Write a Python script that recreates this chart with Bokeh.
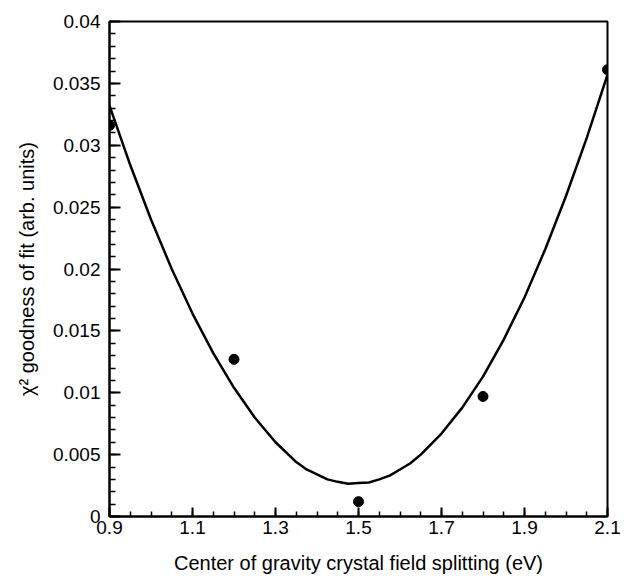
from bokeh.plotting import figure
from bokeh.models import FixedTicker, Range1d
from bokeh.embed import file_html
from bokeh.resources import INLINE

# measured data points
pt_x = [0.9, 1.2, 1.5, 1.8, 2.1]
pt_y = [0.0316, 0.0127, 0.0012, 0.0097, 0.0361]

# fitted curve
fit_x = [0.90, 0.95, 1.00, 1.05, 1.10, 1.15, 1.20, 1.25, 1.30, 1.35, 1.375, 1.40, 1.425,
         1.45, 1.475, 1.50, 1.525, 1.55, 1.575, 1.60, 1.625, 1.65, 1.70, 1.75, 1.80,
         1.85, 1.90, 1.95, 2.00, 2.05, 2.10]
fit_y = [0.0332, 0.0284, 0.0240, 0.0200, 0.0164, 0.0132, 0.0104, 0.0080, 0.0060, 0.0044,
         0.0038, 0.0034, 0.0030, 0.0028, 0.00265, 0.0027, 0.00275, 0.0030, 0.0033, 0.0038,
         0.0043, 0.0050, 0.0067, 0.0088, 0.0113, 0.0143, 0.0177, 0.0216, 0.0259, 0.0306,
         0.0357]

x_ticks = [0.9, 1.1, 1.3, 1.5, 1.7, 1.9, 2.1]
x_tick_labels = ["0.9", "1.1", "1.3", "1.5", "1.7", "1.9", "2.1"]
x_minor = [round(0.9 + 0.05 * i, 3) for i in range(25)]
y_ticks = [0, 0.005, 0.01, 0.015, 0.02, 0.025, 0.03, 0.035, 0.04]
y_tick_labels = ["0", "0.005", "0.01", "0.015", "0.02", "0.025", "0.03", "0.035", "0.04"]
y_minor = [round(0.001 * i, 4) for i in range(41)]

FONT = "Liberation Sans"

p = figure(width=625, height=576, output_backend="svg", toolbar_location=None,
           x_range=Range1d(0.9, 2.1), y_range=Range1d(0, 0.04),
           min_border_left=109, min_border_right=18, min_border_top=21, min_border_bottom=59)
p.grid.visible = False
p.outline_line_color = "black"
p.outline_line_width = 2

p.line(fit_x, fit_y, line_color="black", line_width=2.5)
p.scatter(pt_x, pt_y, size=10, fill_color="black", line_color="black")

p.xaxis.ticker = FixedTicker(ticks=x_ticks, minor_ticks=x_minor)
p.yaxis.ticker = FixedTicker(ticks=y_ticks, minor_ticks=y_minor)
p.xaxis.major_label_overrides = {v: s for v, s in zip(x_ticks, x_tick_labels)}
p.yaxis.major_label_overrides = {v: s for v, s in zip(y_ticks, y_tick_labels)}

for ax in (p.xaxis, p.yaxis):
    ax.axis_line_width = 2
    ax.axis_line_color = "black"
    ax.major_tick_line_color = "black"
    ax.minor_tick_line_color = "black"
    ax.major_tick_line_width = 2
    ax.minor_tick_line_width = 1.5
    ax.major_tick_out = 0
    ax.minor_tick_out = 0
    ax.major_label_text_font = FONT
    ax.major_label_text_font_size = "19px"
    ax.major_label_text_color = "black"
    ax.axis_label_text_font = FONT
    ax.axis_label_text_font_size = "20px"
    ax.axis_label_text_font_style = "normal"
    ax.axis_label_text_color = "black"

p.xaxis.major_tick_in = 9
p.xaxis.minor_tick_in = 5
p.yaxis.major_tick_in = 11
p.yaxis.minor_tick_in = 6
p.xaxis.major_label_standoff = 4
p.yaxis.major_label_standoff = 9
p.xaxis.axis_label = "Center of gravity crystal field splitting (eV)"
p.yaxis.axis_label = "χ² goodness of fit (arb. units)"
p.xaxis.axis_label_standoff = 15
p.yaxis.axis_label_standoff = 12

open("out.html", "w").write(file_html(p, INLINE))
